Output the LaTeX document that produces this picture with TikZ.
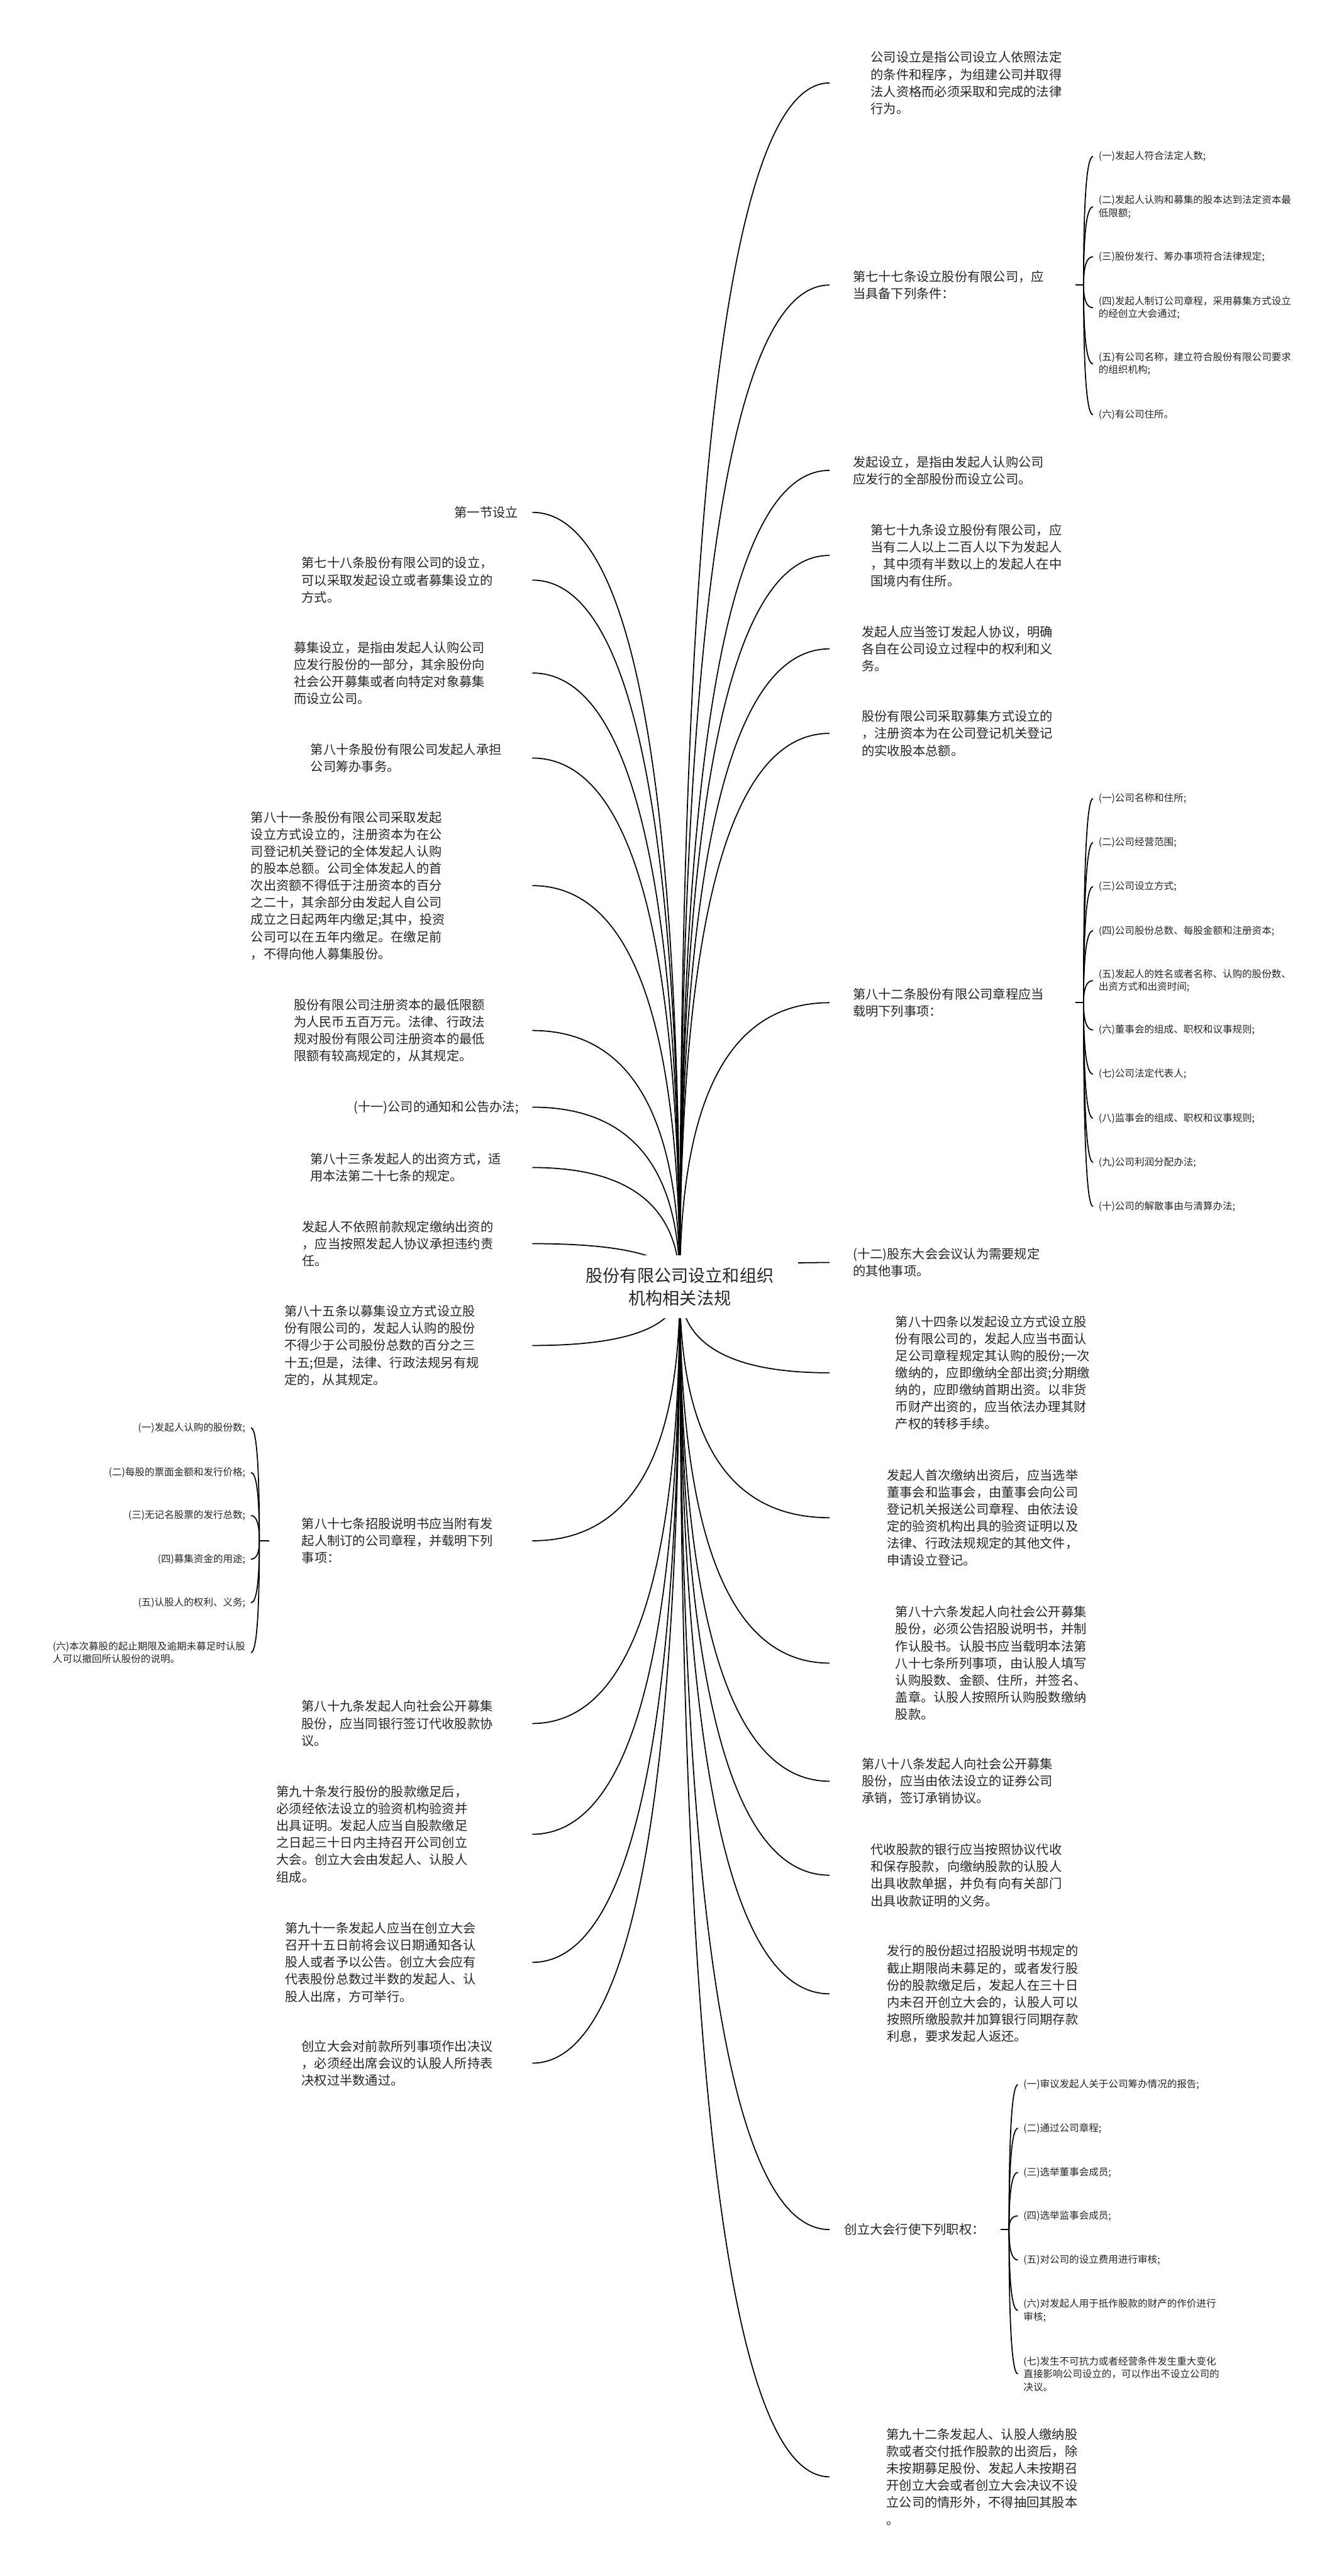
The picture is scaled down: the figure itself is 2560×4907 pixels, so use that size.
\documentclass[tikz,border=0pt]{standalone}
\usepackage{fontspec}
\setmainfont{Noto Sans CJK SC}
\usetikzlibrary{calc,backgrounds}

\tikzset{
  branch/.style={to path={let \p1=(\tikztostart), \p2=(\tikztotarget) in
      .. controls (\x1,{\y1+2/3*(\y2-\y1)}) and ({\x2+2/3*(\x1-\x2)},\y2) .. (\p2)}},
  link/.style={draw=black, line width=0.6pt},
  txt/.style={anchor=west, inner sep=0pt, align=left, text=black!85,
      font=\fontsize{6.9pt}{9.25pt}\selectfont},
  subtxt/.style={inner xsep=0.1cm, inner ysep=0pt, align=left, text=black!85,
      font=\fontsize{5.3pt}{7pt}\selectfont},
  rsub/.style={subtxt, anchor=west},
  lsub/.style={subtxt, anchor=east},
  rootbox/.style={fill=white, inner xsep=0.46cm, inner ysep=0.23cm, align=center,
      text=black!85, font=\fontsize{9.25pt}{12.2pt}\selectfont},
}

\begin{document}
\begin{tikzpicture}[x=0.01cm, y=-0.01cm]
  \useasboundingbox (0,0) rectangle (2560,4907);
  \coordinate (lx) at (1014,0);
  \coordinate (rx) at (1580,0);

  \node[rootbox] (root) at (1295,2451) {股份有限公司设立和组织\\机构相关法规};

  % right side
  \node[txt] (R1) at (1658,158) {公司设立是指公司设立人依照法定\\的条件和程序，为组建公司并取得\\法人资格而必须采取和完成的法律\\行为。};
  \node[txt, text width=4.23cm] (R2) at (1624,543) {第七十七条设立股份有限公司，应\\当具备下列条件：};
  \node[txt] (R3) at (1624,896) {发起设立，是指由发起人认购公司\\应发行的全部股份而设立公司。};
  \node[txt] (R4) at (1658,1058) {第七十九条设立股份有限公司，应\\当有二人以上二百人以下为发起人\\，其中须有半数以上的发起人在中\\国境内有住所。};
  \node[txt] (R5) at (1641,1236) {发起人应当签订发起人协议，明确\\各自在公司设立过程中的权利和义\\务。};
  \node[txt] (R6) at (1641,1397) {股份有限公司采取募集方式设立的\\，注册资本为在公司登记机关登记\\的实收股本总额。};
  \node[txt, text width=4.23cm] (R7) at (1624,1910) {第八十二条股份有限公司章程应当\\载明下列事项：};
  \node[txt] (R8) at (1624,2405) {(十二)股东大会会议认为需要规定\\的其他事项。};
  \node[txt] (R9) at (1705,2615) {第八十四条以发起设立方式设立股\\份有限公司的，发起人应当书面认\\足公司章程规定其认购的股份;一次\\缴纳的，应即缴纳全部出资;分期缴\\纳的，应即缴纳首期出资。以非货\\币财产出资的，应当依法办理其财\\产权的转移手续。};
  \node[txt] (R10) at (1689,2891) {发起人首次缴纳出资后，应当选举\\董事会和监事会，由董事会向公司\\登记机关报送公司章程、由依法设\\定的验资机构出具的验资证明以及\\法律、行政法规规定的其他文件，\\申请设立登记。};
  \node[txt] (R11) at (1705,3168) {第八十六条发起人向社会公开募集\\股份，必须公告招股说明书，并制\\作认股书。认股书应当载明本法第\\八十七条所列事项，由认股人填写\\认购股数、金额、住所，并签名、\\盖章。认股人按照所认购股数缴纳\\股款。};
  \node[txt] (R12) at (1641,3393) {第八十八条发起人向社会公开募集\\股份，应当由依法设立的证券公司\\承销，签订承销协议。};
  \node[txt] (R13) at (1658,3572) {代收股款的银行应当按照协议代收\\和保存股款，向缴纳股款的认股人\\出具收款单据，并负有向有关部门\\出具收款证明的义务。};
  \node[txt] (R14) at (1689,3798) {发行的股份超过招股说明书规定的\\截止期限尚未募足的，或者发行股\\份的股款缴足后，发起人在三十日\\内未召开创立大会的，认股人可以\\按照所缴股款并加算银行同期存款\\利息，要求发起人返还。};
  \node[txt, text width=2.96cm] (R15) at (1608,4247) {创立大会行使下列职权：};
  \node[txt] (R16) at (1688,4718) {第九十二条发起人、认股人缴纳股\\款或者交付抵作股款的出资后，除\\未按期募足股份、发起人未按期召\\开创立大会或者创立大会决议不设\\立公司的情形外，不得抽回其股本\\。};

  % left side
  \node[txt] (L1) at (865,976) {第一节设立};
  \node[txt] (L2) at (574,1105) {第七十八条股份有限公司的设立，\\可以采取发起设立或者募集设立的\\方式。};
  \node[txt] (L3) at (559,1282) {募集设立，是指由发起人认购公司\\应发行股份的一部分，其余股份向\\社会公开募集或者向特定对象募集\\而设立公司。};
  \node[txt] (L4) at (591,1444) {第八十条股份有限公司发起人承担\\公司筹办事务。};
  \node[txt] (L5) at (477,1687) {第八十一条股份有限公司采取发起\\设立方式设立的，注册资本为在公\\司登记机关登记的全体发起人认购\\的股本总额。公司全体发起人的首\\次出资额不得低于注册资本的百分\\之二十，其余部分由发起人自公司\\成立之日起两年内缴足;其中，投资\\公司可以在五年内缴足。在缴足前\\，不得向他人募集股份。};
  \node[txt] (L6) at (559,1963) {股份有限公司注册资本的最低限额\\为人民币五百万元。法律、行政法\\规对股份有限公司注册资本的最低\\限额有较高规定的，从其规定。};
  \node[txt] (L7) at (673,2109) {(十一)公司的通知和公告办法;};
  \node[txt] (L8) at (590,2224) {第八十三条发起人的出资方式，适\\用本法第二十七条的规定。};
  \node[txt] (L9) at (575,2369) {发起人不依照前款规定缴纳出资的\\，应当按照发起人协议承担违约责\\任。};
  \node[txt] (L10) at (541,2563) {第八十五条以募集设立方式设立股\\份有限公司的，发起人认购的股份\\不得少于公司股份总数的百分之三\\十五;但是，法律、行政法规另有规\\定的，从其规定。};
  \node[txt, inner xsep=0.61cm] (L11) at (513,2935) {第八十七条招股说明书应当附有发\\起人制订的公司章程，并载明下列\\事项：};
  \node[txt] (L12) at (574,3283) {第八十九条发起人向社会公开募集\\股份，应当同银行签订代收股款协\\议。};
  \node[txt] (L13) at (526,3494) {第九十条发行股份的股款缴足后，\\必须经依法设立的验资机构验资并\\出具证明。发起人应当自股款缴足\\之日起三十日内主持召开公司创立\\大会。创立大会由发起人、认股人\\组成。};
  \node[txt] (L14) at (542,3738) {第九十一条发起人应当在创立大会\\召开十五日前将会议日期通知各认\\股人或者予以公告。创立大会应有\\代表股份总数过半数的发起人、认\\股人出席，方可举行。};
  \node[txt] (L15) at (574,3930) {创立大会对前款所列事项作出决议\\，必须经出席会议的认股人所持表\\决权过半数通过。};

  % sub lists
  \coordinate (j77) at (2064,543);
  \node[rsub] (c77a) at (2082,298) {(一)发起人符合法定人数;};
  \node[rsub] (c77b) at (2082,394) {(二)发起人认购和募集的股本达到法定资本最\\低限额;};
  \node[rsub] (c77c) at (2082,489) {(三)股份发行、筹办事项符合法律规定;};
  \node[rsub] (c77d) at (2082,586) {(四)发起人制订公司章程，采用募集方式设立\\的经创立大会通过;};
  \node[rsub] (c77e) at (2082,693) {(五)有公司名称，建立符合股份有限公司要求\\的组织机构;};
  \node[rsub] (c77f) at (2082,790) {(六)有公司住所。};

  \coordinate (j82) at (2064,1910);
  \node[rsub] (c82a) at (2082,1521) {(一)公司名称和住所;};
  \node[rsub] (c82b) at (2082,1605) {(二)公司经营范围;};
  \node[rsub] (c82c) at (2082,1689) {(三)公司设立方式;};
  \node[rsub] (c82d) at (2082,1773) {(四)公司股份总数、每股金额和注册资本;};
  \node[rsub] (c82e) at (2082,1868) {(五)发起人的姓名或者名称、认购的股份数、\\出资方式和出资时间;};
  \node[rsub] (c82f) at (2082,1962) {(六)董事会的组成、职权和议事规则;};
  \node[rsub] (c82g) at (2082,2046) {(七)公司法定代表人;};
  \node[rsub] (c82h) at (2082,2130) {(八)监事会的组成、职权和议事规则;};
  \node[rsub] (c82i) at (2082,2214) {(九)公司利润分配办法;};
  \node[rsub] (c82j) at (2082,2298) {(十)公司的解散事由与清算办法;};

  \coordinate (j87) at (494,2935);
  \node[lsub] (c87a) at (478,2720) {(一)发起人认购的股份数;};
  \node[lsub] (c87b) at (478,2805) {(二)每股的票面金额和发行价格;};
  \node[lsub] (c87c) at (478,2887) {(三)无记名股票的发行总数;};
  \node[lsub] (c87d) at (478,2970) {(四)募集资金的用途;};
  \node[lsub] (c87e) at (478,3053) {(五)认股人的权利、义务;};
  \node[lsub] (c87f) at (478,3148) {(六)本次募股的起止期限及逾期未募足时认股\\人可以撤回所认股份的说明。};

  \coordinate (jcl) at (1922,4247);
  \node[rsub] (ccla) at (1939,3971) {(一)审议发起人关于公司筹办情况的报告;};
  \node[rsub] (cclb) at (1939,4054) {(二)通过公司章程;};
  \node[rsub] (cclc) at (1939,4138) {(三)选举董事会成员;};
  \node[rsub] (ccld) at (1939,4221) {(四)选举监事会成员;};
  \node[rsub] (ccle) at (1939,4305) {(五)对公司的设立费用进行审核;};
  \node[rsub] (cclf) at (1939,4401) {(六)对发起人用于抵作股款的财产的作价进行\\审核;};
  \node[rsub] (cclg) at (1939,4522) {(七)发生不可抗力或者经营条件发生重大变化\\直接影响公司设立的，可以作出不设立公司的\\决议。};

  \begin{pgfonlayer}{background}
    \fill[white] (0,0) rectangle (2560,4907);
    \foreach \k in {R1,R2,R3,R4,R5,R6,R7,R8,R9,R10,R11,R12,R13,R14,R15,R16}
      \draw[link] (root.center) to[branch] (\k.west -| rx);
    \foreach \k in {L1,L2,L3,L4,L5,L6,L7,L8,L9,L10,L11,L12,L13,L14,L15}
      \draw[link] (root.center) to[branch] (\k.east -| lx);
    \draw[link] (R2.east) -- (j77);
    \foreach \c in {a,b,c,d,e,f}
      \draw[link] (j77) to[branch] (c77\c.west);
    \draw[link] (R7.east) -- (j82);
    \foreach \c in {a,b,c,d,e,f,g,h,i,j}
      \draw[link] (j82) to[branch] (c82\c.west);
    \draw[link] (L11.west) -- (j87);
    \foreach \c in {a,b,c,d,e,f}
      \draw[link] (j87) to[branch] (c87\c.east);
    \draw[link] (R15.east) -- (jcl);
    \foreach \c in {a,b,c,d,e,f,g}
      \draw[link] (jcl) to[branch] (ccl\c.west);
  \end{pgfonlayer}
\end{tikzpicture}
\end{document}
